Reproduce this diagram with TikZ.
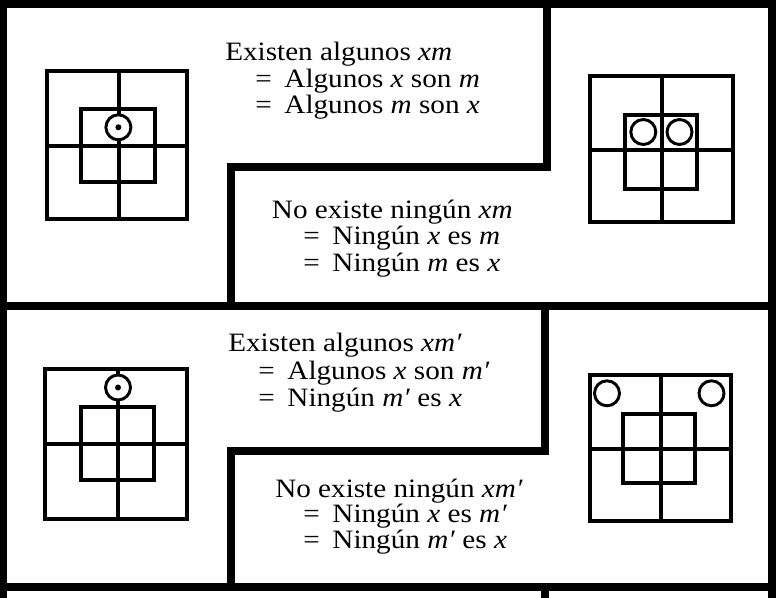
\documentclass[tikz,border=0pt]{standalone}
\usepackage{fontspec}
\setmainfont{Liberation Serif}[FakeStretch=1.1]
\begin{document}
\begin{tikzpicture}[x=0.75pt,y=-0.75pt,
  framel/.style={line width=5.6pt, line join=miter},
  gridl/.style={line width=3pt, line join=miter},
  ring/.style={circle, draw, line width=2.2pt, fill=white, minimum size=18.75pt, inner sep=0pt},
  dotc/.style={circle, fill=black, minimum size=4.5pt, inner sep=0pt},
  txt/.style={anchor=base west, inner sep=0pt, font=\fontsize{19.9}{24}\selectfont},
  eq/.style={txt}]
\useasboundingbox (0,0) rectangle (778,598);
\clip (0,0) rectangle (778,598);
\fill[white] (0,0) rectangle (778,598);

% frame and dividers
\draw[framel] (3.5,620) -- (3.5,4) -- (772,4) -- (772,620);
\draw[framel] (3.5,306) -- (772,306);
\draw[framel] (3.5,587) -- (772,587);
\draw[framel] (547,4) -- (547,167) -- (231,167) -- (231,306);
\draw[framel] (545,306) -- (545,451) -- (231,451) -- (231,587);
\draw[framel] (545,587) -- (545,620);

% diagram 1 (top left)
\draw[gridl] (46.5,71) rectangle (187,219.5);
\draw[gridl] (118.5,71) -- (118.5,219.5);
\draw[gridl] (46.5,146) -- (187,146);
\draw[gridl] (81,109.5) rectangle (154.7,182);
\node[ring] (c1) at (118.4,127.3) {};
\node[dotc] (d1) at (c1.center) {};

% diagram 2 (top right)
\draw[gridl] (590.3,76) rectangle (733,222);
\draw[gridl] (662,76) -- (662,222);
\draw[gridl] (590.3,150) -- (733,150);
\draw[gridl] (624.7,114.7) rectangle (697,188.7);
\node[ring] (c2a) at (643.3,132) {};
\node[ring] (c2b) at (679.5,132) {};

% diagram 3 (bottom left)
\draw[gridl] (45.3,369.2) rectangle (187.2,518.7);
\draw[gridl] (118,369.2) -- (118,518.7);
\draw[gridl] (45.3,444) -- (187.2,444);
\draw[gridl] (81.3,407.2) rectangle (154,479.5);
\node[ring] (c3) at (118,387.5) {};
\node[dotc] (d3) at (c3.center) {};

% diagram 4 (bottom right)
\draw[gridl] (590.3,375.3) rectangle (730.8,520.5);
\draw[gridl] (661.3,375.3) -- (661.3,520.5);
\draw[gridl] (590.3,449) -- (730.8,449);
\draw[gridl] (623.2,413.8) rectangle (694.7,482.8);
\node[ring] (c4a) at (607,393.3) {};
\node[ring] (c4b) at (711.5,393.3) {};

% texts
\node[txt] (t1a) at (225,60.7) {Existen algunos \textit{xm}};
\node[txt] (t1b) at (255,87.3) {=\hspace{0.48em}Algunos \textit{x} son \textit{m}};
\node[txt] (t1c) at (255,113.3) {=\hspace{0.48em}Algunos \textit{m} son \textit{x}};
\node[txt] (t2a) at (271.7,218.3) {No existe ningún \textit{xm}};
\node[txt] (t2b) at (303,245) {=\hspace{0.48em}Ningún \textit{x} es \textit{m}};
\node[txt] (t2c) at (303,271.7) {=\hspace{0.48em}Ningún \textit{m} es \textit{x}};
\node[txt] (t3a) at (228,351.7) {Existen algunos \textit{xm′}};
\node[txt] (t3b) at (258,379.3) {=\hspace{0.48em}Algunos \textit{x} son \textit{m′}};
\node[txt] (t3c) at (258,406.7) {=\hspace{0.48em}Ningún \textit{m′} es \textit{x}};
\node[txt] (t4a) at (275,497) {No existe ningún \textit{xm′}};
\node[txt] (t4b) at (303,522.5) {=\hspace{0.48em}Ningún \textit{x} es \textit{m′}};
\node[txt] (t4c) at (303,548) {=\hspace{0.48em}Ningún \textit{m′} es \textit{x}};
\end{tikzpicture}
\end{document}
